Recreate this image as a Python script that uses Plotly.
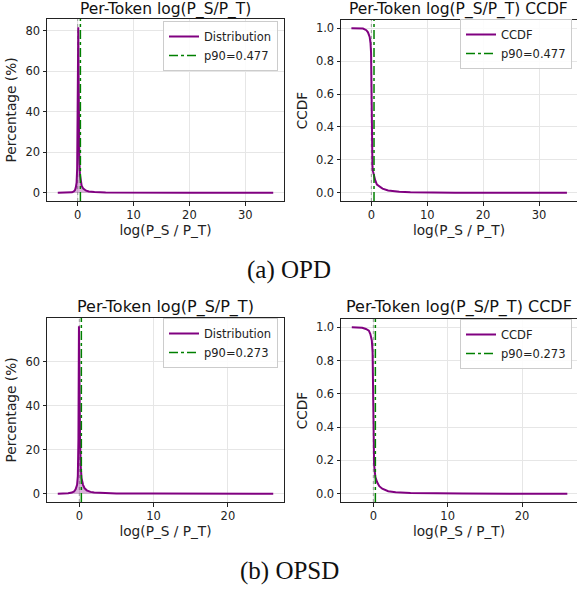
import plotly.graph_objects as go

W, H = 577, 590

# OPD (top row)
opd_x = [-3.57, -2.5, -1.5, -1.0, -0.7, -0.5, -0.35, -0.2, -0.1, 0.0, 0.05, 0.1, 0.15, 0.2, 0.3, 0.4,
         0.5, 0.7, 1.0, 1.5, 2.0, 3.0, 5.0, 10, 20, 35]
opd_pct = [0, 0, 0.05, 0.2, 0.6, 1.2, 2.5, 5, 12, 35, 60, 81.8, 60, 35, 16, 9,
           6, 3.5, 2, 1.0, 0.6, 0.3, 0.1, 0.02, 0, 0]
opd_ccdf_x = [-3.57, -2, -1.5, -0.9, -0.6, -0.3, -0.15, -0.05, 0.0, 0.05, 0.1, 0.2, 0.3, 0.477,
              0.7, 1.0, 1.5, 2.0, 3.0, 4, 5, 7, 10, 15, 20, 35]
opd_ccdf = [1.0, 1.0, 0.998, 0.988, 0.975, 0.947, 0.91, 0.85, 0.6, 0.35, 0.22, 0.16, 0.13, 0.10,
            0.075, 0.05, 0.035, 0.025, 0.014, 0.009, 0.006, 0.003, 0.001, 0.0005, 0.0002, 0]
opd_p90 = 0.477

# OPSD (bottom row)
opsd_x = [-2.9, -2, -1.5, -1.0, -0.7, -0.5, -0.3, -0.2, -0.12, -0.05, 0.0, 0.1, 0.2, 0.3,
          0.5, 0.7, 1.0, 1.5, 2, 3, 5, 10, 26.1]
opsd_pct = [0, 0.05, 0.2, 0.5, 1.0, 2, 4, 8, 25, 76, 50, 25, 12, 7,
            4, 2.5, 1.5, 0.8, 0.5, 0.25, 0.08, 0.02, 0]
opsd_ccdf_x = [-2.9, -2, -1.5, -1.0, -0.6, -0.4, -0.2, -0.1, 0.0, 0.05, 0.1, 0.273, 0.5, 0.8,
               1.2, 2, 3, 5, 8, 12, 20, 26.1]
opsd_ccdf = [1.0, 0.999, 0.997, 0.99, 0.98, 0.96, 0.92, 0.85, 0.55, 0.3, 0.18, 0.10, 0.07, 0.045,
             0.03, 0.015, 0.009, 0.004, 0.001, 0.0005, 0.0001, 0]
opsd_p90 = 0.273

PURPLE = "#800080"
GREEN = "#008000"
FONT = "DejaVu Sans"


def px(x):
    return x / W


def py(y):
    return 1 - y / H


fig = go.Figure()

# panel: (axis id, legend id, x px box, y px box, xrange, yrange, legend right px, legend top px,
#         title centre y px, title size)
panels = [
    ("", "legend", (47, 284), (19, 201), [-5.5, 36.93], [-4.1, 85.9], 278, 21, 9.5, 15.5),
    ("2", "legend2", (341, 577), (20, 201), [-5.43, 36.8], [-0.05, 1.05], 572, 19, 9.5, 15.5),
    ("3", "legend3", (47, 284), (318, 502), [-4.35, 27.55], [-3.8, 79.8], 278, 318, 307, 16),
    ("4", "legend4", (341, 577), (319, 502), [-4.35, 27.4], [-0.05, 1.05], 572, 319, 307, 16),
]

series = [
    (opd_x, opd_pct, "Distribution", opd_p90, True),
    (opd_ccdf_x, opd_ccdf, "CCDF", opd_p90, False),
    (opsd_x, opsd_pct, "Distribution", opsd_p90, True),
    (opsd_ccdf_x, opsd_ccdf, "CCDF", opsd_p90, False),
]

axis_common = dict(
    showline=True, linecolor="#222", linewidth=1,
    showgrid=True, gridcolor="#e6e6e6", gridwidth=1,
    ticks="outside", ticklen=3.5, tickcolor="#222",
    tickfont=dict(family=FONT, size=11.5, color="#222"),
    zeroline=False, automargin=False,
)

titles = ["Per-Token log(P_S/P_T)", "Per-Token log(P_S/P_T) CCDF",
          "Per-Token log(P_S/P_T)", "Per-Token log(P_S/P_T) CCDF"]
ytitles = ["Percentage (%)", "CCDF", "Percentage (%)", "CCDF"]

for i, ((aid, leg, xb, yb, xr, yr, lr, lt, ty, ts), (xs, ys, name, p90, fill)) in enumerate(zip(panels, series)):
    xa = "x" + aid
    ya = "y" + aid
    # vertical reference at 0
    fig.add_trace(go.Scatter(x=[0, 0], y=yr, mode="lines", xaxis=xa, yaxis=ya,
                             line=dict(color="#999", width=1, dash="dot"),
                             showlegend=False, hoverinfo="skip"))
    if fill:
        fig.add_trace(go.Scatter(x=xs, y=ys, mode="none", xaxis=xa, yaxis=ya,
                                 fill="tozeroy", fillcolor="rgba(128,0,128,0.3)",
                                 showlegend=False, hoverinfo="skip"))
    fig.add_trace(go.Scatter(x=xs, y=ys, mode="lines", name=name, xaxis=xa, yaxis=ya,
                             line=dict(color=PURPLE, width=2), legend=leg))
    fig.add_trace(go.Scatter(x=[p90, p90], y=yr, mode="lines", name=f"p90={p90:.3f}",
                             xaxis=xa, yaxis=ya,
                             line=dict(color=GREEN, width=1.5, dash="dashdot"),
                             legend=leg))

    xkey = "xaxis" + aid
    ykey = "yaxis" + aid
    fig.update_layout({
        xkey: dict(axis_common, domain=[px(xb[0]), px(xb[1])], range=xr, anchor=ya,
                   mirror=True, tickvals=[0, 10, 20, 30],
                   title=dict(text="log(P_S / P_T)", standoff=3,
                              font=dict(family=FONT, size=13.7, color="#222"))),
        ykey: dict(axis_common, domain=[py(yb[1]), py(yb[0])], range=yr, anchor=xa,
                   mirror=(i % 2 == 0),
                   tickvals=[0, 20, 40, 60, 80] if fill else [0, 0.2, 0.4, 0.6, 0.8, 1.0],
                   tickformat=".0f" if fill else ".1f",
                   title=dict(text=ytitles[i], standoff=5,
                              font=dict(family=FONT, size=13.7, color="#222"))),
    })

    fig.update_layout({leg: dict(
        x=px(lr), xanchor="right", y=py(lt), yanchor="top",
        bgcolor="rgba(255,255,255,0.85)", bordercolor="#cccccc", borderwidth=1,
        font=dict(family=FONT, size=11.5, color="#222"),
        tracegroupgap=0, itemwidth=30,
    )})

    fig.add_annotation(text=titles[i], xref="paper", yref="paper",
                       x=px((xb[0] + xb[1]) / 2), y=py(ty),
                       xanchor="center", yanchor="middle", showarrow=False,
                       font=dict(family=FONT, size=ts, color="#111"))

fig.add_annotation(text="(a) OPD", xref="paper", yref="paper", x=px(289), y=py(270),
                   xanchor="center", yanchor="middle", showarrow=False,
                   font=dict(family="Liberation Serif", size=25, color="#111"))
fig.add_annotation(text="(b) OPSD", xref="paper", yref="paper", x=px(289), y=py(571),
                   xanchor="center", yanchor="middle", showarrow=False,
                   font=dict(family="Liberation Serif", size=25, color="#111"))

fig.update_layout(
    width=W, height=H, margin=dict(l=0, r=0, t=0, b=0),
    paper_bgcolor="white", plot_bgcolor="white",
    font=dict(family=FONT, color="#222"),
)

# drop the browser's default 8px page margin so the figure fills the window
fig.write_html("out.html", config={"displayModeBar": False},
               post_script="document.body.style.margin='0';")
